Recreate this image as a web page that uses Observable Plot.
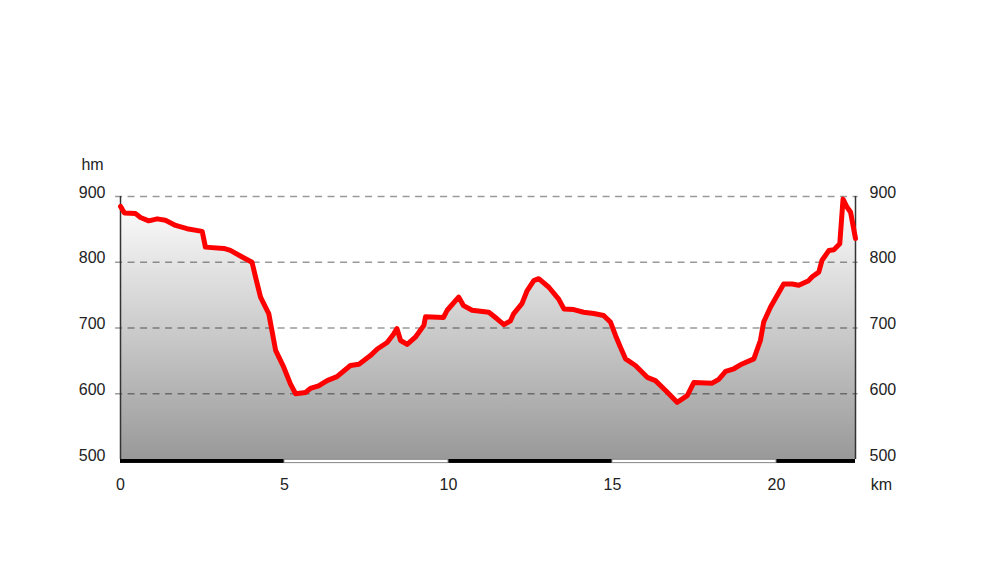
<!DOCTYPE html>
<html>
<head>
<meta charset="utf-8">
<script src="https://cdn.jsdelivr.net/npm/d3@7"></script>
<script src="https://cdn.jsdelivr.net/npm/@observablehq/plot@0.6"></script>
<style>
  html, body { margin: 0; padding: 0; background: #fff; }
  svg { display: block; }
</style>
</head>
<body>
<div id="chart"></div>
<script>
// distance along the route (km)
const km = [0, 0.12, 0.46, 0.61, 0.86, 1.12, 1.37, 1.68, 2.03, 2.49, 2.59, 3.15, 3.35, 3.71, 4.01, 4.12, 4.27, 4.52, 4.73, 4.98,
  5.18, 5.34, 5.64, 5.79, 6.04, 6.3, 6.6, 7.01, 7.27, 7.62, 7.83, 8.13, 8.33, 8.43, 8.54, 8.74, 8.99, 9.25, 9.3, 9.85,
  9.96, 10.31, 10.46, 10.72, 11.23, 11.48, 11.69, 11.89, 11.99, 12.24, 12.4, 12.6, 12.75, 13.06, 13.36, 13.52, 13.82, 14.12, 14.43, 14.73,
  14.94, 15.09, 15.24, 15.4, 15.7, 16.06, 16.31, 16.62, 16.97, 17.28, 17.48, 18.04, 18.24, 18.45, 18.7, 18.9, 19.31, 19.51, 19.61, 19.82,
  20.22, 20.48, 20.68, 20.98, 21.09, 21.29, 21.39, 21.6, 21.75, 21.93, 22.03, 22.15, 22.26, 22.41];
// elevation (m)
const elev = [885, 875, 874, 868, 863, 866, 864, 856, 851, 847, 823, 821, 818, 808, 800, 777, 747, 722, 666, 640,
  615, 600, 602, 608, 612, 620, 626, 643, 645, 658, 668, 678, 691, 699, 681, 675, 686, 704, 717, 716,
  727, 747, 734, 727, 724, 714, 705, 711, 722, 737, 757, 772, 775, 762, 744, 729, 728, 724, 722, 719,
  709, 689, 671, 653, 643, 625, 620, 605, 587, 597, 617, 616, 622, 634, 638, 644, 653, 681, 709, 732,
  767, 767, 765, 772, 778, 785, 803, 818, 819, 828, 896, 884, 876, 836];
const yTicks = [500, 600, 700, 800, 900];
const xTicks = [0, 5, 10, 15, 20];
const yUnit = "hm";
const xUnit = "km";

const data = km.map((k, i) => ({km: k, elev: elev[i]}));
const xMax = km[km.length - 1];
const yMin = yTicks[0], yMax = yTicks[yTicks.length - 1];

// alternating scale bar segments along the bottom
const bounds = [...xTicks, xMax];
const segments = bounds.slice(0, -1).map((b, i) => ({x1: b, x2: bounds[i + 1], dark: i % 2 === 0}));

const font = "'Liberation Sans', Arial, sans-serif";

const plot = Plot.plot({
  width: 1000,
  height: 584,
  marginLeft: 120,
  marginRight: 145,
  marginTop: 196,
  marginBottom: 125,
  style: {fontFamily: font, fontSize: "16px", color: "#222", background: "#fff"},
  x: {domain: [0, xMax]},
  y: {domain: [yMin, yMax]},
  marks: [
    Plot.areaY(data, {x: "km", y1: yMin, y2: "elev", fill: "url(#elevGrad)"}),
    Plot.ruleY(yTicks.slice(1), {x1: -0.15, x2: xMax + 0.08, stroke: "#000", strokeOpacity: 0.4, strokeDasharray: "7,5.5", strokeWidth: 1.4}),
    Plot.ruleX([0, xMax], {y1: yMin, y2: yMax, stroke: "#333", strokeWidth: 1.5}),
    Plot.rect(segments.filter(d => d.dark), {x1: "x1", x2: "x2", y1: yMin - 6, y2: yMin, fill: "#000"}),
    Plot.rect(segments.filter(d => !d.dark), {x1: "x1", x2: "x2", y1: yMin - 5.5, y2: yMin - 0.5, fill: "#fff", stroke: "#888", strokeWidth: 1}),
    Plot.line(data, {x: "km", y: "elev", stroke: "#ff0000", strokeWidth: 5, strokeLinejoin: "round", strokeLinecap: "round"}),
    Plot.axisY(yTicks, {anchor: "left", tickSize: 0, tickPadding: 15, dy: -4, fontSize: 16, label: null}),
    Plot.axisY(yTicks, {anchor: "right", tickSize: 0, tickPadding: 14, dy: -4, fontSize: 16, label: null}),
    Plot.axisX(xTicks, {anchor: "bottom", tickSize: 0, tickPadding: 19, fontSize: 16, label: null}),
    Plot.text([yUnit], {frameAnchor: "top-left", dx: -28, dy: -32, lineAnchor: "middle", text: d => d, fontSize: 16, textAnchor: "middle"}),
    Plot.text([xUnit], {frameAnchor: "bottom-right", dx: 26, dy: 25, lineAnchor: "middle", text: d => d, fontSize: 16, textAnchor: "middle"})
  ]
});

// vertical gradient fixed to the plot frame: white at top, grey at bottom
const defs = d3.select(plot).insert("defs", ":first-child");
const grad = defs.append("linearGradient")
  .attr("id", "elevGrad")
  .attr("gradientUnits", "userSpaceOnUse")
  .attr("x1", 0).attr("x2", 0)
  .attr("y1", 196).attr("y2", 459);
grad.append("stop").attr("offset", "0%").attr("stop-color", "#ffffff");
grad.append("stop").attr("offset", "100%").attr("stop-color", "#999999");

document.getElementById("chart").appendChild(plot);
</script>
</body>
</html>
